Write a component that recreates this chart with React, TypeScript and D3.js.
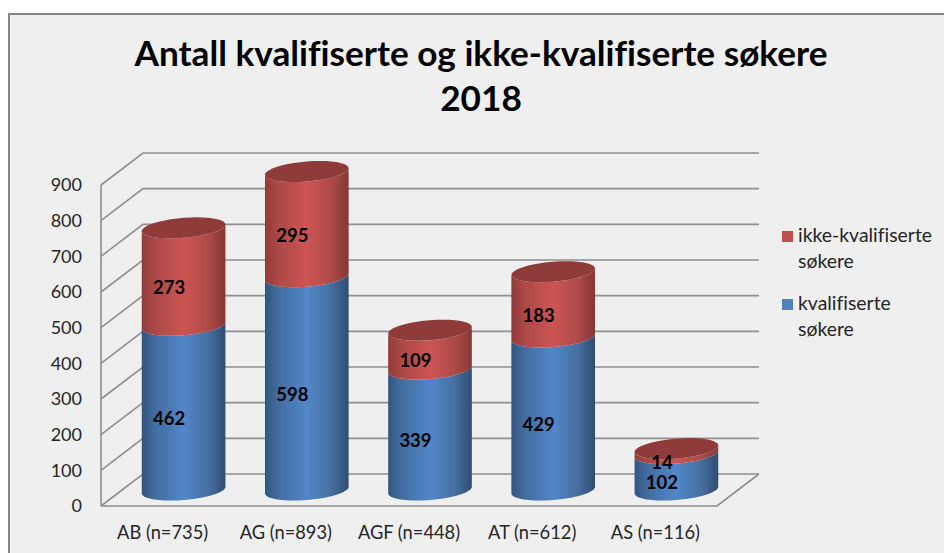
import React from 'react';
import * as d3 from 'd3';

const categories = ['AB (n=735)', 'AG (n=893)', 'AGF (n=448)', 'AT (n=612)', 'AS (n=116)'];
const kvalifiserte = [462, 598, 339, 429, 102];
const ikkeKvalifiserte = [273, 295, 109, 183, 14];
const yTicks = [0, 100, 200, 300, 400, 500, 600, 700, 800, 900];
const titleLines = ['Antall kvalifiserte og ikke-kvalifiserte søkere', '2018'];
const legendItems = [
  { lines: ['ikke-kvalifiserte', 'søkere'], color: '#c0504d' },
  { lines: ['kvalifiserte', 'søkere'], color: '#4f81bd' },
];

const width = 944;
const height = 553;
const font = 'Lato, "Open Sans", sans-serif';
const gridColor = '#8f8f8f';

// 3d box of the plot
const depthX = 42;
const depthY = -32;
const x0 = 101;
const x1 = 717;
const yFloor = 506;
const yTop = 185;

const x = d3.scaleBand<string>().domain(categories).range([x0, x1]).paddingInner(0.321).paddingOuter(0.1605);
const y = d3.scaleLinear().domain([0, 900]).range([yFloor, yTop]);

// ellipse of a cylinder at a given value, tilted a bit because of the depth
const rx = x.bandwidth() / 2;
const ry = 10;
const tilt = 3.3;
const line = d3.line<[number, number]>().curve(d3.curveLinear);

function ellipsePoint(cx: number, cy: number, t: number): [number, number] {
  return [cx + rx * Math.cos(t), cy - tilt * Math.cos(t) - ry * Math.sin(t)];
}

function arc(cx: number, cy: number, from: number, to: number) {
  return d3.range(0, 41).map((i) => ellipsePoint(cx, cy, from + ((to - from) * i) / 40));
}

function centerX(cat: string) {
  return (x(cat) as number) + x.bandwidth() / 2 + depthX / 2;
}

function centerY(value: number) {
  return y(value) + depthY / 2;
}

function side(cat: string, v0: number, v1: number) {
  const cx = centerX(cat);
  // front half of the bottom, then back along the front half of the top
  const bottom = arc(cx, centerY(v0), Math.PI, 2 * Math.PI);
  const top = arc(cx, centerY(v1), 2 * Math.PI, Math.PI);
  return line([...bottom, ...top]) + 'Z';
}

function lid(cat: string, v: number) {
  return line(arc(centerX(cat), centerY(v), 0, 2 * Math.PI)) + 'Z';
}

function Gradient({ id, stops }: { id: string; stops: [number, string][] }) {
  return (
    <linearGradient id={id} x1="0" x2="1" y1="0" y2="0">
      {stops.map(([o, c]) => (
        <stop key={o} offset={o} stopColor={c} />
      ))}
    </linearGradient>
  );
}

export default function App() {
  return (
    <svg
      width={width}
      height={height}
      style={{ position: 'absolute', left: 0, top: 0, background: '#fff', fontVariantLigatures: 'none' }}
      fontFamily={font}
    >
      <defs>
        <Gradient
          id="blueSide"
          stops={[
            [0, '#33557f'],
            [0.15, '#426c9f'],
            [0.5, '#5287c9'],
            [0.8, '#466f9f'],
            [1, '#2f4d73'],
          ]}
        />
        <Gradient
          id="redSide"
          stops={[
            [0, '#8f3c3a'],
            [0.15, '#ab4846'],
            [0.5, '#cd5553'],
            [0.8, '#ad4a47'],
            [1, '#843735'],
          ]}
        />
      </defs>

      <rect x={9} y={14} width={width} height={height} fill="#efefef" stroke="#868686" strokeWidth={2} />

      {titleLines.map((t, i) => (
        <text key={t} x={481} y={66 + i * 45} textAnchor="middle" fontSize={35.2} fontWeight={700} fill="#000">
          {t}
        </text>
      ))}

      {/* walls and floor */}
      <g fill="none" stroke={gridColor} strokeWidth={1.6}>
        {yTicks.map((t) => (
          <path
            key={t}
            d={`M${x0},${y(t)}L${x0 + depthX},${y(t) + depthY}L${x1 + depthX},${y(t) + depthY}`}
          />
        ))}
        <path d={`M${x0},${yFloor}L${x0},${yTop}`} />
        <path d={`M${x0},${yFloor}L${x1},${yFloor}L${x1 + depthX},${yFloor + depthY}`} />
      </g>

      {yTicks.map((t) => (
        <text key={t} x={82} y={y(t)} dy="0.35em" textAnchor="end" fontSize={18} fill="#262626">
          {t}
        </text>
      ))}

      {categories.map((c) => (
        <text
          key={c}
          x={(x(c) as number) + x.bandwidth() / 2}
          y={539}
          textAnchor="middle"
          fontSize={18.3}
          fill="#262626"
        >
          {c}
        </text>
      ))}

      {/* cylinders */}
      {categories.map((c, i) => {
        const total = kvalifiserte[i] + ikkeKvalifiserte[i];
        return (
          <g key={c}>
            <path d={side(c, 0, kvalifiserte[i])} fill="url(#blueSide)" />
            <path d={side(c, kvalifiserte[i], total)} fill="url(#redSide)" />
            <path d={lid(c, total)} fill="#8e3b39" />
          </g>
        );
      })}

      {/* value labels sit on the front of the cylinder */}
      {categories.map((c, i) => {
        const lx = centerX(c) - 14.5;
        const low = centerY(kvalifiserte[i] / 2) + 11;
        const high = centerY(kvalifiserte[i] + ikkeKvalifiserte[i] / 2) + 11;
        return (
          <g key={c} textAnchor="middle" fontSize={18.5} fontWeight={700} fill="#000">
            <text x={lx} y={low} dy="0.35em">
              {kvalifiserte[i]}
            </text>
            <text x={lx} y={high} dy="0.35em">
              {ikkeKvalifiserte[i]}
            </text>
          </g>
        );
      })}

      {legendItems.map((item, i) => (
        <g key={item.color} transform={`translate(782,${231 + i * 68})`}>
          <rect width={11} height={11} fill={item.color} />
          {item.lines.map((l, j) => (
            <text key={l} x={16} y={11 + j * 25.5} fontSize={19.4} fill="#262626">
              {l}
            </text>
          ))}
        </g>
      ))}
    </svg>
  );
}
